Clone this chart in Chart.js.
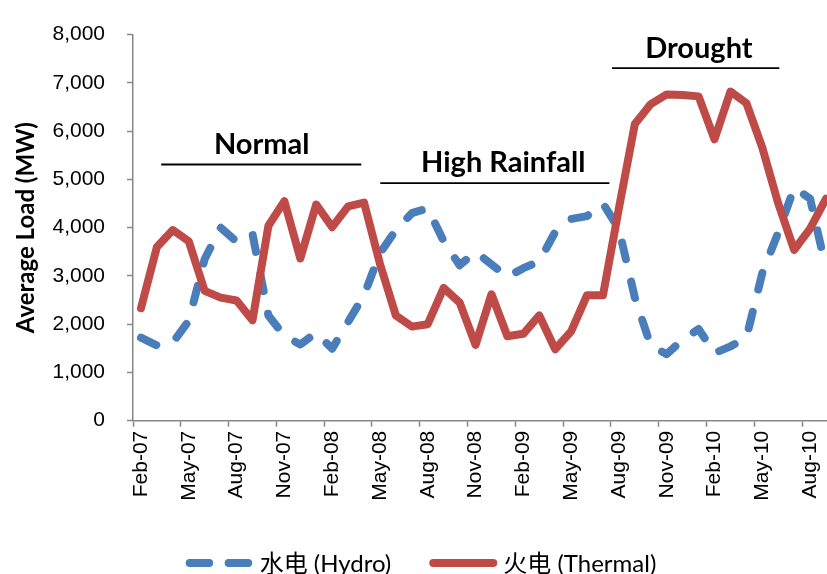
<!DOCTYPE html>
<html>
<head>
<meta charset="utf-8">
<script src="https://cdn.jsdelivr.net/npm/chart.js@4.4.1/dist/chart.umd.min.js"></script>
<style>
html,body{margin:0;padding:0;background:#fff;overflow:hidden}
#wrap{width:827px;height:574px;overflow:hidden;position:relative;background:#fff}
canvas{display:block}
</style>
</head>
<body>
<div id="wrap"><canvas id="c" width="847" height="574"></canvas></div>
<script>
// ---- data ----
const months = [
  'Feb-07','Mar-07','Apr-07','May-07','Jun-07','Jul-07','Aug-07','Sep-07','Oct-07','Nov-07','Dec-07',
  'Jan-08','Feb-08','Mar-08','Apr-08','May-08','Jun-08','Jul-08','Aug-08','Sep-08','Oct-08','Nov-08','Dec-08',
  'Jan-09','Feb-09','Mar-09','Apr-09','May-09','Jun-09','Jul-09','Aug-09','Sep-09','Oct-09','Nov-09','Dec-09',
  'Jan-10','Feb-10','Mar-10','Apr-10','May-10','Jun-10','Jul-10','Aug-10','Sep-10'
];
const hydro = [
  1720,1560,1620,2070,3350,4000,3710,3870,2180,1760,1580,
  1820,1490,2045,2600,3470,3950,4300,4400,3720,3220,3500,3240,
  2980,3160,3300,3910,4180,4240,4500,3970,2550,1550,1380,1680,
  1900,1400,1540,1720,3060,3900,4830,4600,3150
];
const thermal = [
  2330,3600,3950,3720,2690,2550,2490,2080,4040,4550,3360,
  4480,4010,4440,4520,3250,2180,1950,2000,2750,2450,1570,2620,
  1750,1800,2180,1480,1850,2600,2600,4400,6150,6560,6760,6750,
  6720,5830,6820,6580,5660,4500,3540,3980,4600
];
const seriesNames = ['水电 (Hydro)', '火电 (Thermal)'];
const periodNames = ['Normal', 'High Rainfall', 'Drought'];
const yTitle = 'Average Load (MW)';

// ---- annotation layout (category index / value coordinates) ----
const periodLayout = [
  {from: 1.27, to: 13.83, lineAt: 5308, textCenter: 7.58, textAt: 5517},
  {from: 15.02, to: 29.4, lineAt: 4922, textCenter: 22.74, textAt: 5157},
  {from: 29.57, to: 40.07, lineAt: 7304, textCenter: 35.02, textAt: 7513}
];

const periodPlugin = {
  id: 'periods',
  afterDatasetsDraw(chart) {
    const {ctx, scales: {x, y}} = chart;
    ctx.save();
    periodNames.forEach((name, i) => {
      const p = periodLayout[i];
      ctx.strokeStyle = '#000';
      ctx.lineWidth = 1.8;
      ctx.beginPath();
      const ly = y.getPixelForValue(p.lineAt);
      ctx.moveTo(x.getPixelForValue(p.from), ly);
      ctx.lineTo(x.getPixelForValue(p.to), ly);
      ctx.stroke();
      ctx.fillStyle = '#000';
      ctx.font = 'bold 29px Lato';
      ctx.textAlign = 'center';
      ctx.textBaseline = 'alphabetic';
      ctx.fillText(name, x.getPixelForValue(p.textCenter), y.getPixelForValue(p.textAt));
    });
    ctx.restore();
  }
};

const legendPlugin = {
  id: 'customLegend',
  afterDraw(chart, args, opts) {
    const ctx = chart.ctx;
    ctx.save();
    ctx.font = opts.font;
    const ds = chart.data.datasets;
    const widths = ds.map(d => opts.sampleWidth + opts.textGap + ctx.measureText(d.label).width);
    const total = widths.reduce((a, b) => a + b, 0) + opts.itemGap * (ds.length - 1);
    let x0 = opts.centerX - total / 2;
    const yc = opts.y;
    ds.forEach((d, i) => {
      const r = opts.lineWidth / 2;
      ctx.strokeStyle = d.borderColor;
      ctx.lineWidth = opts.lineWidth;
      ctx.lineCap = 'round';
      ctx.setLineDash(d.borderDash ? opts.dash : []);
      ctx.beginPath();
      ctx.moveTo(x0 + r, yc);
      ctx.lineTo(x0 + opts.sampleWidth - r, yc);
      ctx.stroke();
      ctx.setLineDash([]);
      ctx.fillStyle = '#000';
      ctx.textAlign = 'left';
      ctx.textBaseline = 'middle';
      ctx.fillText(d.label, x0 + opts.sampleWidth + opts.textGap, yc + 1);
      x0 += widths[i] + opts.itemGap;
    });
    ctx.restore();
  }
};

new Chart(document.getElementById('c'), {
  type: 'line',
  data: {
    labels: months,
    datasets: [
      {
        label: seriesNames[0], data: hydro,
        borderColor: '#4A7EBB', backgroundColor: '#4A7EBB',
        borderWidth: 8, borderDash: [17, 23],
        borderCapStyle: 'round', borderJoinStyle: 'round',
        pointRadius: 0, pointHoverRadius: 0, tension: 0, fill: false, order: 1
      },
      {
        label: seriesNames[1], data: thermal,
        borderColor: '#BE4B48', backgroundColor: '#BE4B48',
        borderWidth: 8,
        borderCapStyle: 'round', borderJoinStyle: 'round',
        pointRadius: 0, pointHoverRadius: 0, tension: 0, fill: false, order: 0
      }
    ]
  },
  options: {
    responsive: false,
    animation: false,
    devicePixelRatio: 1,
    layout: {padding: {left: 0, top: 27, right: 13, bottom: 40}},
    plugins: {
      legend: {display: false},
      tooltip: {enabled: false},
      customLegend: {
        font: '24px Lato, "Noto Sans CJK SC"',
        sampleWidth: 68, textGap: 6, itemGap: 38,
        lineWidth: 8, dash: [19.5, 19.5],
        centerX: 421, y: 563
      }
    },
    scales: {
      x: {
        offset: true,
        ticks: {
          autoSkip: false, maxRotation: 90, minRotation: 90,
          color: '#000', font: {family: 'Liberation Sans', size: 21}, padding: 4,
          callback: (v, i) => (i % 3 === 0 ? months[i] : '')
        },
        grid: {
          offset: true, drawOnChartArea: false, drawTicks: true, tickLength: 6,
          color: 'rgba(0,0,0,0)', tickWidth: 1.5,
          tickColor: c => (c.index % 3 === 0 ? '#868686' : 'rgba(0,0,0,0)')
        },
        border: {display: true, color: '#868686', width: 1.5},
        afterFit: s => { s.height = 574 - 40 - 420.7; s.paddingLeft = 0; s.paddingRight = 0; }
      },
      y: {
        min: 0, max: 8000,
        ticks: {
          stepSize: 1000, color: '#000', padding: 22,
          font: {family: 'Liberation Sans', size: 21},
          callback: v => v.toLocaleString('en-US')
        },
        grid: {drawOnChartArea: false, drawTicks: true, tickLength: 6, tickColor: '#868686', tickWidth: 1.5},
        border: {display: true, color: '#868686', width: 1.5},
        title: {
          display: true, text: yTitle, color: '#000',
          font: {family: 'Lato', weight: 'bold', size: 24},
          padding: {top: 12, bottom: 0}
        },
        afterFit: s => { s.width = 133; }
      }
    }
  },
  plugins: [periodPlugin, legendPlugin]
});
</script>
</body>
</html>
